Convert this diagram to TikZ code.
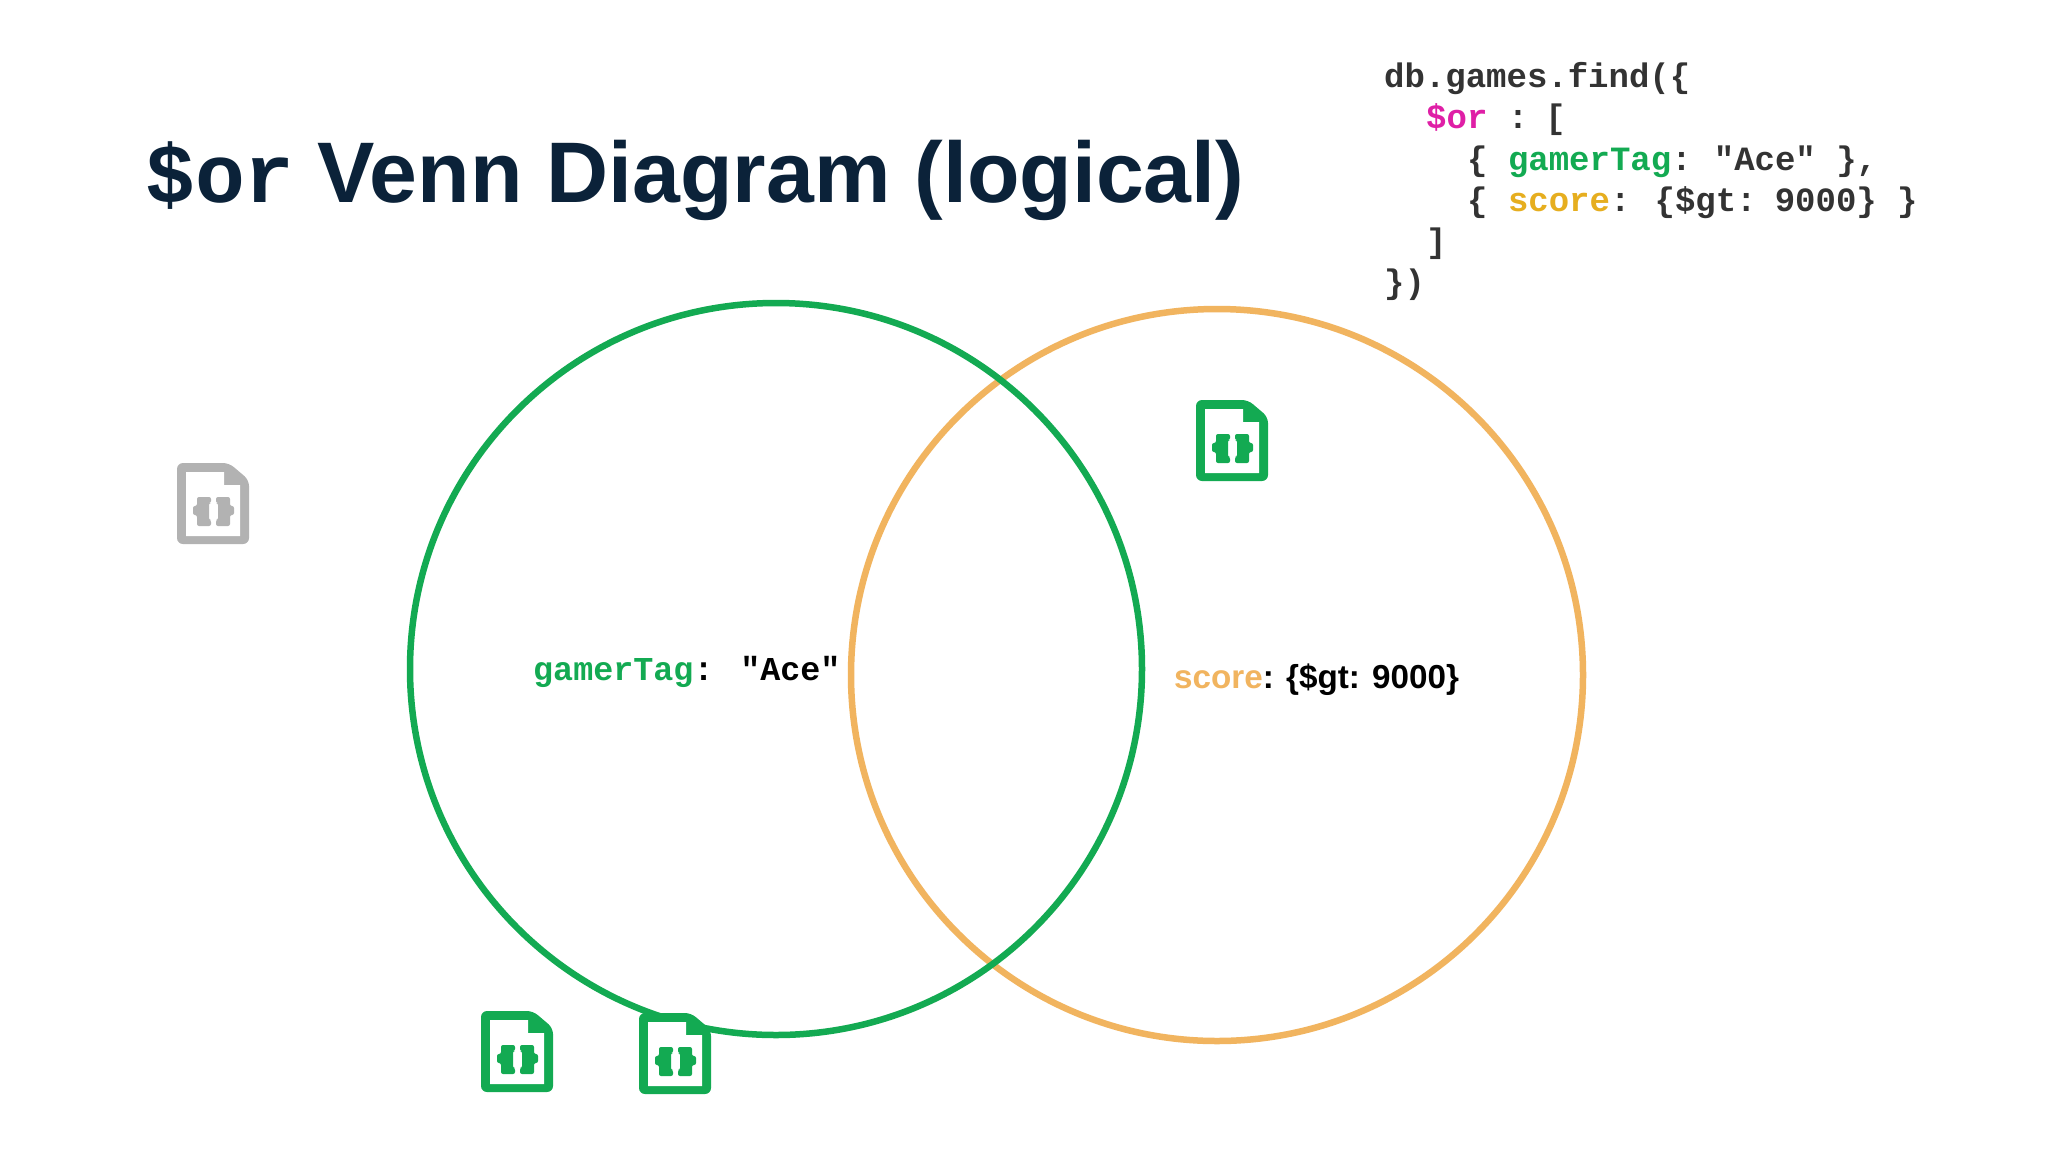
\documentclass[tikz,border=0pt]{standalone}
\usepackage{fontspec}
\setmainfont{Liberation Sans}
\newfontfamily\codefont{Liberation Mono}[BoldFont={Liberation Mono Bold}]
\definecolor{mgreen}{HTML}{13AA52}
\definecolor{morange}{HTML}{F1B45F}
\definecolor{mgold}{HTML}{E6AE1F}
\definecolor{mmagenta}{HTML}{DF1FA6}
\definecolor{titlecol}{HTML}{0B2239}
\definecolor{codecol}{HTML}{333333}
\definecolor{mgray}{HTML}{B2B2B2}
\tikzset{
  codeline/.style={anchor=base west,inner sep=0pt,text=codecol,font=\codefont\bfseries\fontsize{34}{34}\selectfont},
  titlepart/.style={anchor=base west,inner sep=0pt,text=titlecol},
  venn/.style={draw,line width=6.5pt,fill=none},
  docicon/.pic={
    \fill[pic actions,rounded corners=6pt] (0,0) -- (52,0) -- (72,17) -- (72,81) -- (0,81) -- cycle;
    \fill[white] (9,9) -- (47,9) -- (47,22) -- (63,22) -- (63,73) -- (9,73) -- cycle;
    \fill[pic actions,rounded corners=2pt] (34,34) -- (20,34) -- (20,43) -- (16,43) -- (16,52) -- (20,52) -- (20,63) -- (34,63) -- (34,57) -- (32,57) -- (32,40) -- (34,40) -- cycle;
    \fill[pic actions,rounded corners=2pt] (39,34) -- (53,34) -- (53,43) -- (57,43) -- (57,52) -- (53,52) -- (53,63) -- (39,63) -- (39,57) -- (41,57) -- (41,40) -- (39,40) -- cycle;
  }
}
\begin{document}
\begin{tikzpicture}[x=1pt,y=-1pt]
\useasboundingbox (0,0) rectangle (2048,1152);
\fill[white] (0,0) rectangle (2048,1152);
% title
\node[titlepart,font=\codefont\bfseries\fontsize{83}{83}\selectfont] (titleor) at (145,202) {\$or};
\node[titlepart,font=\bfseries\fontsize{86}{86}\selectfont] (titlemain) at (317,202) {Venn Diagram (logical)};
% code
\node[codeline] (c1) at (1384,87) {db.games.find(\{};
\node[codeline] (c2) at (1426,128.5) {\textcolor{mmagenta}{\$or} : \hspace{-10pt}[};
\node[codeline] (c3) at (1467,170) {\{ \textcolor{mgreen}{gamerTag}: \hspace{-5pt}"Ace" \},};
\node[codeline] (c4) at (1467,211) {\{ \textcolor{mgold}{score}: \hspace{-3pt}\{\$gt: \hspace{-9pt}9000\} \}};
\node[codeline] (c5) at (1426,252.5) {]};
\node[codeline] (c6) at (1384,293) {\})};
% circles
\node[venn,draw=morange,circle,minimum size=732pt,inner sep=0pt] (cright) at (1217,675) {};
\node[venn,draw=mgreen,circle,minimum size=732pt,inner sep=0pt] (cleft) at (776,669) {};
% labels
\node[anchor=base west,inner sep=0pt,font=\codefont\bfseries\fontsize{33.4}{33.4}\selectfont] (lgamer) at (533,680) {\textcolor{mgreen}{gamerTag}:  "Ace"};
\node[anchor=base west,inner sep=0pt,font=\bfseries\fontsize{33.2}{33.2}\selectfont] (lscore) at (1174,688) {\textcolor{morange}{score}: \{\$gt: 9000\}};
% icons
\pic[fill=mgray,color=mgray] at (177,463) {docicon};
\pic[fill=mgreen,color=mgreen] at (1196,400) {docicon};
\pic[fill=mgreen,color=mgreen] at (481,1011) {docicon};
\pic[fill=mgreen,color=mgreen] at (639,1013) {docicon};
\end{tikzpicture}
\end{document}
